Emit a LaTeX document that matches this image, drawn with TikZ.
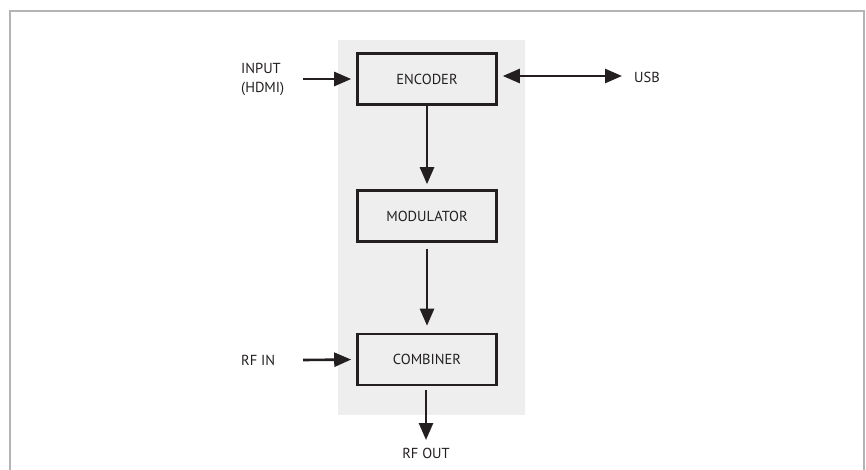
\documentclass[tikz,border=0pt]{standalone}
\usepackage{fontspec}
\setmainfont{PT Sans}
\usetikzlibrary{arrows.meta}
\definecolor{ink}{HTML}{231F20}
\definecolor{panel}{HTML}{EEEEEE}
\definecolor{frame}{HTML}{B4B4B4}
\begin{document}
\begin{tikzpicture}[x=1pt,y=-1pt,
  blk/.style={draw=ink,line width=2.6pt,fill=panel,minimum width=139pt,minimum height=51pt,inner sep=0pt,font=\fontsize{14.5}{18}\selectfont,text=ink},
  lbl/.style={font=\fontsize{14.5}{19}\selectfont,text=ink,inner sep=0pt},
  arr/.style={draw=ink,line width=2.6pt,-{Triangle[length=17pt,width=14pt]}},
  darr/.style={draw=ink,line width=2.6pt,{Triangle[length=17pt,width=14pt]}-{Triangle[length=17pt,width=14pt]}}]
\useasboundingbox (0,0) rectangle (866,469);
\fill[white] (0,0) rectangle (866,469);
\draw[frame,line width=1.2pt] (10,470) -- (10,11) -- (864,11) -- (864,470);
\fill[panel] (338,40) rectangle (525,415);
\node[blk] (enc) at (427,79) {ENCODER};
\node[blk] (mod) at (427,216) {MODULATOR};
\node[blk] (comb) at (427,359.5) {COMBINER};
\node[lbl,anchor=west,align=left] (inp) at (241,79) {INPUT\\(HDMI)};
\node[lbl,anchor=west] (rfin) at (241,360) {RF IN};
\node[lbl,anchor=west] (usb) at (634,77) {USB};
\node[lbl] (rfout) at (426,453) {RF OUT};
\coordinate (inS) at (303,79);
\coordinate (rfS) at (303,360);
\coordinate (usbE) at (622,76);
\coordinate (outE) at (426,440);
\draw[arr,shorten >=5pt] (inS) -- (enc.west);
\draw[arr,shorten >=5pt] (rfS) -- (comb.west);
\draw[darr,shorten <=5pt] (enc.east|-usbE) -- (usbE);
\draw[arr,shorten >=5pt] (enc.south) -- (mod.north);
\draw[arr,shorten <=6pt,shorten >=7pt] (mod.south) -- (comb.north);
\draw[arr,shorten <=4pt] (comb.south-|outE) -- (outE);
\end{tikzpicture}
\end{document}
